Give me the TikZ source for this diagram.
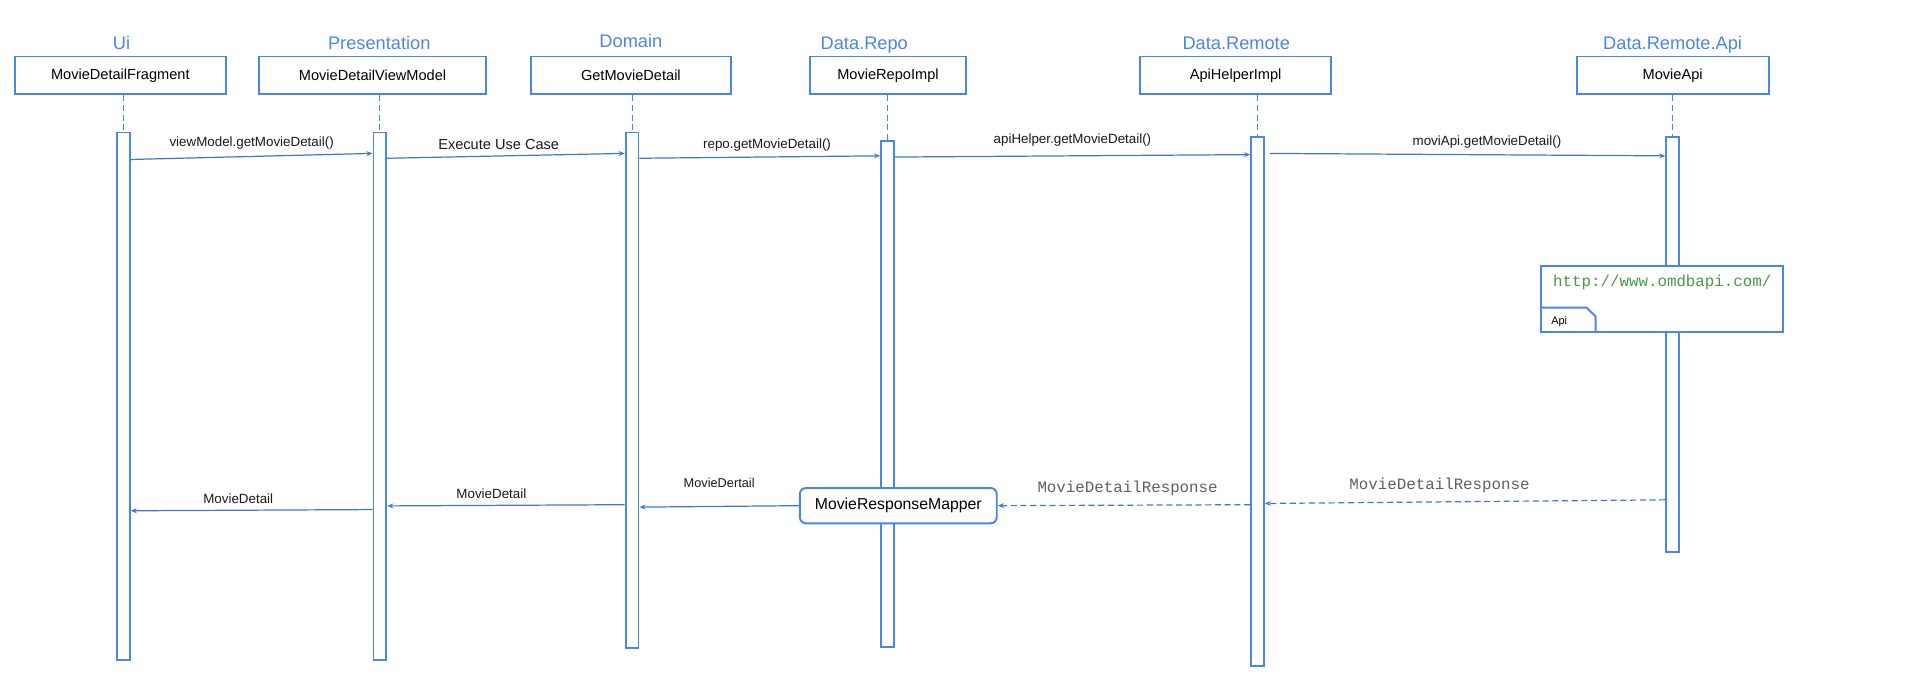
\documentclass[tikz,border=0pt]{standalone}
\usepackage{fontspec}
\setmainfont{Liberation Sans}
\setmonofont{Liberation Mono}
\usetikzlibrary{arrows.meta,calc}

\definecolor{uml}{RGB}{74,134,232}
\definecolor{msg}{RGB}{60,120,216}
\definecolor{resp}{RGB}{95,95,95}
\definecolor{url}{RGB}{76,150,76}

\begin{document}
\begin{tikzpicture}[x=1pt, y=-1pt,
  head/.style={text=uml, font=\fontsize{15}{17}\selectfont, anchor=base, inner sep=0pt},
  obj/.style={draw=uml, line width=1.6pt, fill=white, minimum height=31pt, inner sep=0pt, font=\fontsize{12}{14}\selectfont},
  bar/.style={draw=uml, line width=1.6pt, fill=white, minimum width=10.5pt, inner sep=0pt},
  life/.style={uml, line width=0.8pt, dash pattern=on 5pt off 3pt},
  call/.style={msg, line width=1pt, -{Stealth[length=5pt,width=4pt]}},
  ret/.style={call, dash pattern=on 5pt off 3pt},
  lbl/.style={text=black!90, font=\fontsize{11}{13}\selectfont, inner sep=1pt, above=4pt},
  mono/.style={text=resp, font=\ttfamily\fontsize{13}{15}\selectfont, inner sep=1pt, above=6pt}]
\useasboundingbox (0,0) rectangle (1568,558.6);

\node[head] (hui) at (100,41) {Ui};
\node[head] (hpres) at (312,41) {Presentation};
\node[head] (hdom) at (519,39) {Domain};
\node[head] (hrepo) at (711,41) {Data.Repo};
\node[head] (hremote) at (1017,41) {Data.Remote};
\node[head] (hapi) at (1376,41) {Data.Remote.Api};

\node[obj, minimum width=174pt] (frag) at (99,62) {MovieDetailFragment};
\node[obj, minimum width=187pt] (vm) at (306.5,62) {MovieDetailViewModel};
\node[obj, minimum width=164pt] (uc) at (519,62) {GetMovieDetail};
\node[obj, minimum width=129pt] (repo) at (730.5,62) {MovieRepoImpl};
\node[obj, minimum width=157pt] (helper) at (1016.5,62) {ApiHelperImpl};
\node[obj, minimum width=158pt] (api) at (1376,62) {MovieApi};

\node[bar, minimum height=434pt] (uibar) at (101.5,326) {};
\node[bar, minimum height=434pt] (vmbar) at (312.5,326) {};
\node[bar, minimum height=424pt] (ucbar) at (520,321) {};
\node[bar, minimum height=416pt] (repobar) at (730,324) {};
\node[bar, minimum height=435pt] (helperbar) at (1034.5,330.5) {};
\node[bar, minimum height=341pt] (apibar) at (1376,283.5) {};

\draw[life] (frag.south -| uibar.north) -- (uibar.north);
\draw[life] (vm.south -| vmbar.north) -- (vmbar.north);
\draw[life] (uc.south -| ucbar.north) -- (ucbar.north);
\draw[life] (repo.south -| repobar.north) -- (repobar.north);
\draw[life] (helper.south -| helperbar.north) -- (helperbar.north);
\draw[life] (api.south -| apibar.north) -- (apibar.north);

\node[draw=uml, line width=1.6pt, fill=white, minimum width=199pt, minimum height=54pt, inner sep=0pt] (note) at (1367.5,246) {};
\node[text=url, font=\ttfamily\fontsize{13}{15}\selectfont] (url) at (1367.5,232) {http://www.omdbapi.com/};
\draw[uml, line width=1.6pt] (note.south west) ++(0,-20.7) -- ++(38,0) -- ++(7.5,7.2) -- ++(0,13.5);
\node[font=\fontsize{9}{10}\selectfont, anchor=west, inner sep=0pt] (tab) at (1276,265) {Api};

\node[draw=uml, line width=1.6pt, fill=white, rounded corners=5pt, minimum width=162pt, minimum height=29pt, inner sep=0pt, font=\fontsize{13}{15}\selectfont] (mapper) at (739,416) {MovieResponseMapper};

\draw[call] ($(uibar.north east)+(0,23)$) -- ($(vmbar.north west)+(0,18)$) node[lbl, midway] (m1) {viewModel.getMovieDetail()};
\draw[call] ($(vmbar.north east)+(0,22)$) -- ($(ucbar.north west)+(0,18)$) node[lbl, font=\fontsize{12}{14}\selectfont, midway, xshift=-6pt, above=0pt] (m2) {Execute Use Case};
\draw[call] ($(ucbar.north east)+(0,22)$) -- ($(repobar.north west)+(0,13)$) node[lbl, midway, xshift=6pt, above=-1pt] (m3) {repo.getMovieDetail()};
\draw[call] ($(repobar.north east)+(0,14)$) -- ($(helperbar.north west)+(0,15)$) node[lbl, midway, above=2pt] (m4) {apiHelper.getMovieDetail()};
\draw[call, shorten <=4pt] ($(helperbar.north east)+(0,14)$) -- ($(apibar.north west)+(0,16)$) node[lbl, midway, xshift=18pt] (m5) {moviApi.getMovieDetail()};

\draw[ret] ($(apibar.north west)+(0,299)$) -- ($(helperbar.north east)+(0,302)$) node[mono, midway, xshift=-21pt] (r1) {MovieDetailResponse};
\draw[ret] ($(helperbar.north west)+(0,303)$) -- (mapper.east) node[mono, midway, xshift=3pt] (r2) {MovieDetailResponse};
\draw[call] (mapper.west) -- ($(ucbar.north east)+(0,309)$) node[lbl, font=\fontsize{10.5}{12}\selectfont, midway, above=10pt] (r3) {MovieDertail};
\draw[call] ($(ucbar.north west)+(0,307)$) -- ($(vmbar.north east)+(0,308)$) node[lbl, midway, xshift=-12pt] (r4) {MovieDetail};
\draw[call] ($(vmbar.north west)+(0,311)$) -- ($(uibar.north east)+(0,312)$) node[lbl, midway, xshift=-11pt] (r5) {MovieDetail};
\end{tikzpicture}
\end{document}
